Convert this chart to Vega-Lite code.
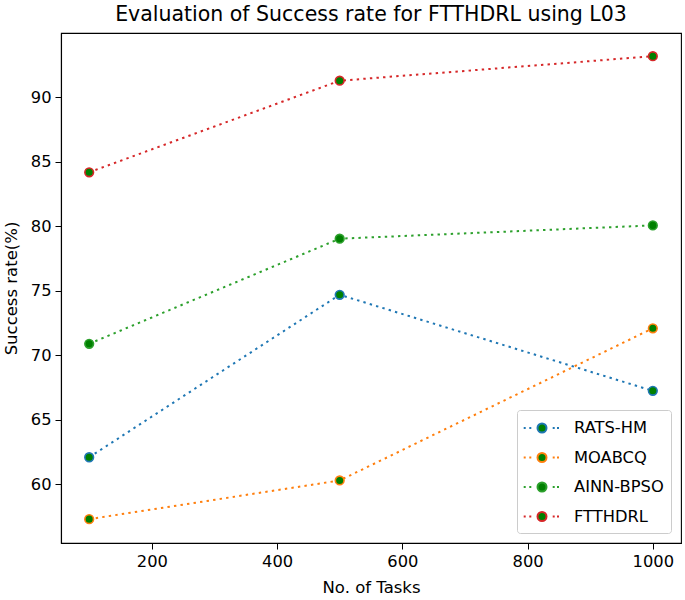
{
  "$schema": "https://vega.github.io/schema/vega-lite/v6.json",
  "width": 620,
  "height": 510,
  "autosize": {"type": "none"},
  "padding": {"left": 61, "top": 33, "right": 4, "bottom": 57},
  "background": "white",
  "title": {"text": "Evaluation of Success rate for FTTHDRL using L03", "font": "DejaVu Sans", "fontSize": 20.5, "fontWeight": "normal", "color": "#000000", "offset": 8},
  "config": {
    "view": {"stroke": "#000000", "strokeWidth": 1.1},
    "axis": {"grid": false, "domainColor": "#000000", "tickColor": "#000000", "labelColor": "#000000", "titleColor": "#000000", "labelFont": "DejaVu Sans", "titleFont": "DejaVu Sans", "labelFontSize": 16.3, "titleFontSize": 16.5, "titleFontWeight": "normal", "tickSize": 6, "labelPadding": 4, "domainWidth": 1.1}
  },
  "data": {"values": [
    {"series": "RATS-HM", "tasks": 100, "rate": 62.1},
    {"series": "RATS-HM", "tasks": 500, "rate": 74.7},
    {"series": "RATS-HM", "tasks": 1000, "rate": 67.25},
    {"series": "MOABCQ", "tasks": 100, "rate": 57.3},
    {"series": "MOABCQ", "tasks": 500, "rate": 60.3},
    {"series": "MOABCQ", "tasks": 1000, "rate": 72.1},
    {"series": "AINN-BPSO", "tasks": 100, "rate": 70.9},
    {"series": "AINN-BPSO", "tasks": 500, "rate": 79.05},
    {"series": "AINN-BPSO", "tasks": 1000, "rate": 80.08},
    {"series": "FTTHDRL", "tasks": 100, "rate": 84.2},
    {"series": "FTTHDRL", "tasks": 500, "rate": 91.3},
    {"series": "FTTHDRL", "tasks": 1000, "rate": 93.2}
  ]},
  "encoding": {
    "x": {"field": "tasks", "type": "quantitative", "scale": {"domain": [55, 1045], "nice": false, "zero": false}, "axis": {"values": [200, 400, 600, 800, 1000], "format": "d", "title": "No. of Tasks", "titlePadding": 10}},
    "y": {"field": "rate", "type": "quantitative", "scale": {"domain": [55.45, 95.0], "nice": false, "zero": false}, "axis": {"values": [60, 65, 70, 75, 80, 85, 90], "title": "Success rate(%)", "titlePadding": 11}},
    "stroke": {"field": "series", "type": "nominal", "scale": {"domain": ["RATS-HM", "MOABCQ", "AINN-BPSO", "FTTHDRL"], "range": ["#1f77b4", "#ff7f0e", "#2ca02c", "#d62728"]},
      "legend": {"title": null, "orient": "bottom-right", "offset": 10, "padding": 7, "fillColor": "#ffffff", "strokeColor": "#cccccc", "cornerRadius": 3, "labelFont": "DejaVu Sans", "labelFontSize": 16.3, "labelColor": "#000000", "labelOffset": 28, "rowPadding": 9.5, "symbolSize": 400, "symbolStrokeWidth": 2, "symbolFillColor": "green",
        "symbolType": "M-1.13,0 L-0.93,0 M-0.57,0 L-0.37,0 M1.77,0 L1.97,0 M2.2,0 L2.4,0 M0.25,0 A0.45,0.45 0 1,0 1.15,0 A0.45,0.45 0 1,0 0.25,0",
        "encode": {"symbols": {"update": {"fill": {"value": "green"}, "strokeDash": {"value": []}, "opacity": {"value": 1}, "strokeWidth": {"value": 2}}}}}
    }
  },
  "layer": [
    {"mark": {"type": "line", "strokeWidth": 2, "strokeDash": [2.4, 4.2]}},
    {"mark": {"type": "point", "shape": "circle", "filled": false, "fill": "green", "fillOpacity": 1, "size": 75, "strokeWidth": 1.6, "opacity": 1}}
  ]
}
